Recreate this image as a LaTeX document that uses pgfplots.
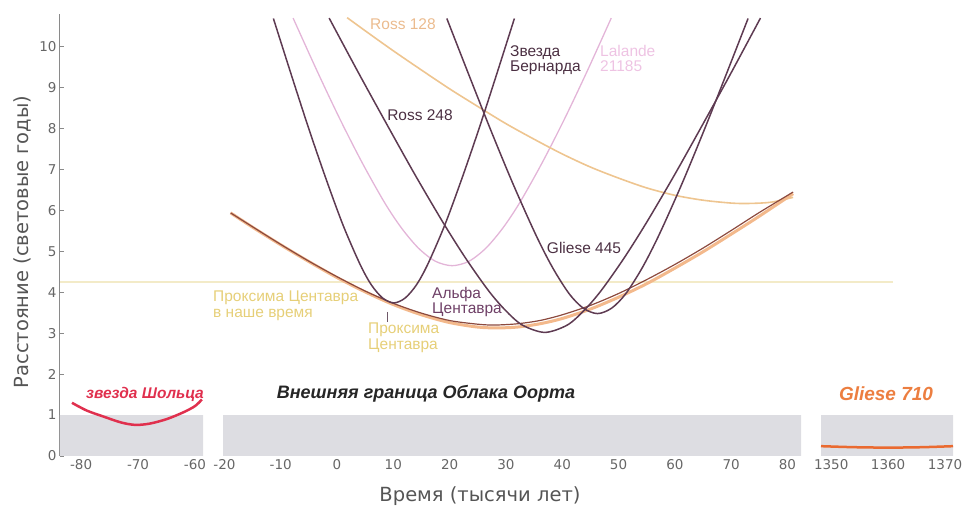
\documentclass[border=0pt]{standalone}
\usepackage{fontspec}
\setmainfont{Liberation Sans}
\newfontfamily\dejavu{DejaVu Sans}
\usepackage{pgfplots}
\pgfplotsset{compat=1.18}
\definecolor{purpledark}{HTML}{5E3B52}
\definecolor{lalande}{HTML}{E3B5D8}
\definecolor{rossonetwoeight}{HTML}{EEC590}
\definecolor{alphacen}{HTML}{F3B98C}
\definecolor{proxima}{HTML}{8C4A3E}
\definecolor{nowline}{HTML}{F3EBC8}
\definecolor{yellowtxt}{HTML}{E6CF78}
\definecolor{alphatxt}{HTML}{6E3F66}
\definecolor{rtxt}{HTML}{EBBB8E}
\definecolor{lalandetxt}{HTML}{EEC3E3}
\definecolor{labeldark}{HTML}{4B2F42}
\definecolor{scholz}{HTML}{E0304E}
\definecolor{glline}{HTML}{EA6A30}
\definecolor{gltxt}{HTML}{EC7E40}
\definecolor{band}{HTML}{DDDDE2}
\definecolor{axisgray}{HTML}{8A8A8A}
\definecolor{ticktxt}{HTML}{666666}
\definecolor{labtxt}{HTML}{555555}
\begin{document}
\begin{tikzpicture}[x=1pt,y=1pt]
\useasboundingbox (0,0) rectangle (967,510);
\pgfplotsset{panel/.style={
  scale only axis, height=442pt, ymin=0, ymax=10.8,
  anchor=south west, clip=false,
  axis x line*=bottom,
  axis line style={-, draw=axisgray, line width=1pt},
  tick align=inside, major tick length=4pt,
  tick style={draw=axisgray, line width=0.8pt},
  tick label style={font=\dejavu\fontsize{13.5}{15}\selectfont, text=ticktxt},
  /pgf/number format/assume math mode=true,
  /pgf/number format/1000 sep={},
}}
% left panel
\begin{axis}[panel, at={(60pt,54pt)}, width=143pt,
  xmin=-83.7, xmax=-58.6, xtick={-80,-70,-60},
  axis y line*=left, ytick={0,1,...,10}]
\addplot[fill=band, draw=none] coordinates {(-83.7,0) (-58.6,0) (-58.6,1) (-83.7,1)} \closedcycle;
\addplot[scholz, line width=2.5pt, smooth] coordinates {
(-81.6,1.30) (-79,1.11) (-76,0.96) (-73,0.82) (-70.5,0.76) (-68,0.79) (-65,0.90) (-62,1.07) (-60,1.22) (-58.8,1.38)};
\end{axis}
% middle panel
\begin{axis}[panel, at={(223pt,54pt)}, width=578pt,
  xmin=-20.25, xmax=82.4, xtick={-20,-10,...,80},
  axis y line=none, ytick=\empty]
\addplot[fill=band, draw=none] coordinates {(-20.25,0) (82.4,0) (82.4,1) (-20.25,1)} \closedcycle;
\addplot[nowline, line width=2pt] coordinates {(-49.2,4.24) (98.75,4.24)};
% Lalande 21185
\addplot[lalande, line width=1.3pt, smooth] coordinates {
(-7.8,10.70) (-3.55,9.41) (0.45,8.25) (4.45,7.17) (8.45,6.19) (11.45,5.57) (14.45,5.08) (17.45,4.76) (20.45,4.65)
(23.45,4.76) (26.45,5.08) (29.45,5.57) (32.45,6.19) (36.45,7.17) (40.45,8.25) (44.45,9.41) (48.7,10.70)};
% Ross 128
\addplot[rossonetwoeight, line width=1.6pt, smooth] coordinates {
(1.8,10.71) (5,10.39) (10,9.90) (15,9.43) (20,8.97) (25,8.54) (30,8.12) (35,7.74) (40,7.38) (45,7.06)
(50,6.79) (55,6.55) (60,6.37) (65,6.25) (70,6.18) (73,6.17) (77,6.20) (81,6.32)};
% Alpha Centauri
\addplot[alphacen, line width=3pt, smooth] coordinates {
(-18.9,5.94) (-15,5.59) (-10,5.16) (-5,4.75) (0,4.36) (5,4.01) (10,3.70) (15,3.45) (20,3.26) (25,3.15) (28.5,3.13)
(32,3.15) (36,3.23) (40,3.36) (45,3.59) (50,3.88) (55,4.21) (60,4.59) (65,4.99) (70,5.42) (75,5.86) (81,6.41)};
% Proxima Centauri
\addplot[proxima, line width=1.2pt, smooth] coordinates {
(-18.9,5.94) (-15,5.60) (-10,5.17) (-5,4.76) (0,4.38) (5,4.03) (10,3.73) (15,3.49) (20,3.31) (25,3.22) (28,3.20)
(32,3.23) (36,3.31) (40,3.45) (45,3.68) (50,3.97) (55,4.31) (60,4.68) (65,5.08) (70,5.51) (75,5.95) (81,6.45)};
% Barnard
\addplot[purpledark, line width=1.5pt, smooth] coordinates {
(-11.3,10.69) (-7.9,9.22) (-4.9,7.95) (-1.9,6.75) (1.1,5.63) (4.1,4.68) (6.1,4.18) (8.1,3.86) (10.1,3.74)
(12.1,3.86) (14.1,4.18) (16.1,4.68) (19.1,5.63) (22.1,6.75) (25.1,7.95) (28.1,9.22) (31.5,10.69)};
% Ross 248
\addplot[purpledark, line width=1.5pt, smooth] coordinates {
(-1.4,10.70) (3.9,9.34) (8.9,8.09) (13.9,6.86) (18.9,5.69) (22.9,4.82) (26.9,4.04) (29.9,3.56) (32.9,3.20) (36.9,3.02)
(40.9,3.20) (43.9,3.56) (46.9,4.04) (50.9,4.82) (54.9,5.69) (59.9,6.86) (64.9,8.09) (69.9,9.34) (75.2,10.70)};
% Gliese 445
\addplot[purpledark, line width=1.5pt, smooth] coordinates {
(19.5,10.69) (23.25,9.37) (27.25,7.98) (31.25,6.65) (35.25,5.42) (38.25,4.61) (41.25,3.96) (43.75,3.61) (46.25,3.48)
(48.75,3.61) (51.25,3.96) (54.25,4.61) (57.25,5.42) (61.25,6.65) (65.25,7.98) (69.25,9.37) (73.0,10.69)};
% small marker line
\addplot[labeldark!80, line width=1pt] coordinates {(8.9,3.52) (8.9,3.27)};
\end{axis}
% right panel
\begin{axis}[panel, at={(821pt,54pt)}, width=132pt,
  xmin=1348.2, xmax=1371.4, xtick={1350,1360,1370},
  axis y line=none, ytick=\empty]
\addplot[fill=band, draw=none] coordinates {(1348.2,0) (1371.4,0) (1371.4,1) (1348.2,1)} \closedcycle;
\addplot[glline, line width=2.5pt, smooth] coordinates {
(1348.2,0.24) (1354,0.215) (1360,0.205) (1366,0.215) (1371.4,0.24)};
\end{axis}
% axis labels
\node[rotate=90, font=\dejavu\fontsize{19.5}{21}\selectfont, text=labtxt] at (22,268) {Расстояние (световые годы)};
\node[font=\dejavu\fontsize{19.5}{21}\selectfont, text=labtxt] at (480,14) {Время (тысячи лет)};
% annotations
\begin{scope}[every node/.style={font=\fontsize{15.5}{15.5}\selectfont, inner sep=0pt}]
\node[anchor=west, text=rtxt] at (370,486) {Ross 128};
\node[anchor=north west, align=left, text=labeldark] at (510,465) {Звезда\\Бернарда};
\node[anchor=north west, align=left, text=lalandetxt] at (600,465) {Lalande\\21185};
\node[text=labeldark] at (420,395) {Ross 248};
\node[text=labeldark] at (584,262) {Gliese 445};
\node[anchor=north west, align=left, text=alphatxt] at (432,223) {Альфа\\Центавра};
\node[anchor=north west, align=left, text=yellowtxt] at (213,219) {Проксима Центавра\\в наше время};
\node[anchor=north west, align=left, text=yellowtxt] at (368,187) {Проксима\\Центавра};
\end{scope}
\begin{scope}[every node/.style={font=\bfseries\itshape, inner sep=0pt}]
\node[text=scholz, font=\fontsize{15.5}{17}\selectfont\bfseries\itshape] at (145,116) {звезда Шольца};
\node[text=black!85, font=\fontsize{18}{20}\selectfont\bfseries\itshape] at (426,116) {Внешняя граница Облака Оорта};
\node[text=gltxt, font=\fontsize{19}{21}\selectfont\bfseries\itshape] at (886,116) {Gliese 710};
\end{scope}
\end{tikzpicture}
\end{document}
